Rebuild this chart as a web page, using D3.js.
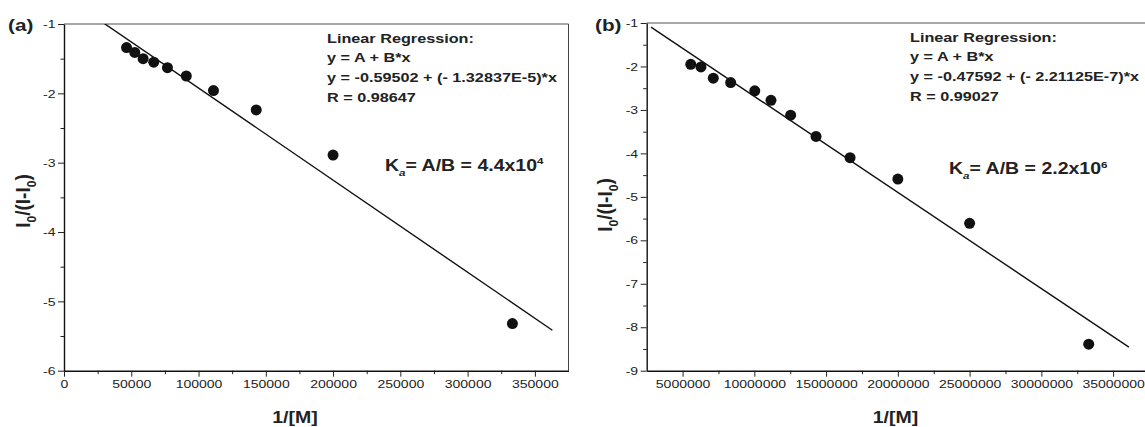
<!DOCTYPE html>
<html>
<head>
<meta charset="utf-8">
<script src="https://cdn.jsdelivr.net/npm/d3@7"></script>
<style>
body { margin: 0; background: #fff; }
svg { display: block; font-family: "Liberation Sans", Arial, sans-serif; }
</style>
</head>
<body>
<div id="chart"></div>
<script>
// panel (a) points: 1/[M] against I0/(I-I0)
const xA = [46500, 52600, 58800, 66700, 76900, 90900, 111100, 142900, 200000, 333300];
const yA = [-1.34, -1.41, -1.50, -1.55, -1.63, -1.75, -1.96, -2.24, -2.89, -5.32];
const fitA = [-0.59502, -1.32837e-5];      // A, B
const fitSpanA = [0, 363000];
const xTicksA = [0, 50000, 100000, 150000, 200000, 250000, 300000, 350000];
const xMinorA = [25000, 75000, 125000, 175000, 225000, 275000, 325000];
const yTicksA = [-6, -5, -4, -3, -2, -1];
const yMinorA = [-5.5, -4.5, -3.5, -2.5, -1.5];
const regTextA = ["Linear Regression:", "y = A + B*x", "y = -0.59502 + (- 1.32837E-5)*x", "R = 0.98647"];
const kaA = ["4.4x10", "4"];

// panel (b)
const xB = [5570000, 6280000, 7140000, 8350000, 10030000, 11160000, 12530000, 14300000, 16670000, 20000000, 25000000, 33300000];
const yB = [-1.95, -2.01, -2.27, -2.37, -2.56, -2.78, -3.12, -3.61, -4.10, -4.59, -5.61, -8.39];
const fitB = [-0.47592, -2.21125e-7];
const fitSpanB = [2800000, 36100000];
const xTicksB = [5000000, 10000000, 15000000, 20000000, 25000000, 30000000, 35000000];
const xMinorB = [7500000, 12500000, 17500000, 22500000, 27500000, 32500000];
const yTicksB = [-9, -8, -7, -6, -5, -4, -3, -2, -1];
const yMinorB = [-8.5, -7.5, -6.5, -5.5, -4.5, -3.5, -2.5, -1.5];
const regTextB = ["Linear Regression:", "y = A + B*x", "y = -0.47592 + (- 2.21125E-7)*x", "R = 0.99027"];
const kaB = ["2.2x10", "6"];

const width = 1145, height = 427;
const SX = 1.22; // the source figure is stretched sideways, so text is too

const svg = d3.select("#chart")
    .append("svg")
    .attr("width", width)
    .attr("height", height);

function stretched(g, x, y, sx) {
    return g.append("text").attr("transform", `translate(${x},${y}) scale(${sx},1)`);
}

function drawPanel(p) {
    const x = d3.scaleLinear().domain(p.xDomain).range(p.xRange);
    const y = d3.scaleLinear().domain(p.yDomain).range(p.yRange);
    const g = svg.append("g");
    const x0 = p.xRange[0], x1 = p.xRange[1], yb = p.yRange[0], yt = p.yRange[1];

    // frame: grey top, dark right
    g.append("line").attr("x1", x0).attr("x2", x1).attr("y1", yt).attr("y2", yt)
        .attr("stroke", "#8a8a8a").attr("stroke-width", 1.6);
    g.append("line").attr("x1", x1).attr("x2", x1).attr("y1", yt).attr("y2", yb)
        .attr("stroke", "#444").attr("stroke-width", 1);

    // minor ticks
    const mx = g.append("g").attr("transform", `translate(0,${yb})`)
        .call(d3.axisBottom(x).tickValues(p.xMinor).tickSize(3.5).tickSizeOuter(0).tickFormat(""));
    const my = g.append("g").attr("transform", `translate(${x0},0)`)
        .call(d3.axisLeft(y).tickValues(p.yMinor).tickSize(3.5).tickSizeOuter(0).tickFormat(""));
    mx.select(".domain").remove();
    my.select(".domain").remove();

    // major axes
    const ax = g.append("g").attr("transform", `translate(0,${yb})`)
        .call(d3.axisBottom(x).tickValues(p.xTicks).tickSize(6).tickSizeOuter(0).tickPadding(3).tickFormat(d3.format("d")));
    const ay = g.append("g").attr("transform", `translate(${x0},0)`)
        .call(d3.axisLeft(y).tickValues(p.yTicks).tickSize(6).tickSizeOuter(0).tickPadding(1).tickFormat(d => d3.format("d")(d).replace("−", "-")));
    [ax, ay, mx, my].forEach(a => {
        a.selectAll("line").attr("stroke", "#222").attr("stroke-width", 1);
        a.select(".domain").attr("stroke", "#111").attr("stroke-width", 1.4);
        a.selectAll("text")
            .attr("font-size", 11.5)
            .attr("fill", "#222")
            .attr("font-family", "Liberation Sans, Arial, sans-serif");
    });
    ax.selectAll("text").attr("transform", `scale(${SX},1)`).attr("x", d => (x(d) / SX) - x(d));
    ax.selectAll(".tick text").each(function (d) {
        d3.select(this).attr("transform", null)
            .attr("x", 0)
            .attr("transform", `scale(${SX},1)`);
    });
    ay.selectAll("text").attr("transform", `scale(${SX},1)`);

    // fit line, clipped to the plot area
    const clipId = "clip-" + p.name;
    g.append("clipPath").attr("id", clipId).append("rect")
        .attr("x", x0).attr("y", yt).attr("width", x1 - x0).attr("height", yb - yt);
    const line = d3.line().x(d => x(d)).y(d => y(p.fit[0] + p.fit[1] * d));
    g.append("path")
        .datum(p.fitSpan)
        .attr("clip-path", `url(#${clipId})`)
        .attr("fill", "none")
        .attr("stroke", "#111")
        .attr("stroke-width", 1.4)
        .attr("d", line);

    // points
    g.selectAll(".pt").data(p.xs.map((v, i) => [v, p.ys[i]]))
        .enter().append("circle")
        .attr("class", "pt")
        .attr("cx", d => x(d[0]))
        .attr("cy", d => y(d[1]))
        .attr("r", 5.5)
        .attr("fill", "#111");

    // regression text
    p.reg.forEach((t, i) => {
        stretched(g, p.regX, p.regY + i * 19.7, SX)
            .attr("font-size", 13.3).attr("font-weight", "bold").attr("fill", "#222")
            .text(t);
    });

    // K_a text
    const ka = stretched(g, p.kaX, p.kaY, SX)
        .attr("font-size", 16).attr("font-weight", "bold").attr("fill", "#222");
    ka.append("tspan").text("K");
    ka.append("tspan").attr("font-size", 9.5).attr("font-style", "italic").attr("dy", 5).text("a");
    ka.append("tspan").attr("dy", -5).text("= A/B = " + p.ka[0]);
    ka.append("tspan").attr("font-size", 9.5).attr("dy", -6.5).text(p.ka[1]);

    // panel label
    stretched(g, p.labelX, 31, SX)
        .attr("font-size", 17).attr("font-weight", "bold").attr("fill", "#222")
        .text(p.label);

    // x title
    stretched(g, p.xTitleX, 423, SX)
        .attr("font-size", 16).attr("font-weight", "bold").attr("fill", "#222")
        .attr("text-anchor", "middle")
        .text("1/[M]");

    // y title
    const yt2 = g.append("text")
        .attr("transform", `translate(${p.yTitleX},${p.yTitleY}) scale(1.1,1) rotate(-90)`)
        .attr("font-size", 19).attr("font-weight", "bold").attr("fill", "#222")
        .attr("text-anchor", "middle");
    yt2.append("tspan").text("I");
    yt2.append("tspan").attr("font-size", 12).attr("dy", 5).text("0");
    yt2.append("tspan").attr("dy", -5).text("/(I-I");
    yt2.append("tspan").attr("font-size", 12).attr("dy", 5).text("0");
    yt2.append("tspan").attr("dy", -5).text(")");
}

drawPanel({
    name: "a", label: "(a)", labelX: 8,
    xDomain: [0, 375000], xRange: [64, 568.5],
    yDomain: [-6, -1], yRange: [370.7, 24],
    xs: xA, ys: yA, fit: fitA, fitSpan: fitSpanA,
    xTicks: xTicksA, xMinor: xMinorA, yTicks: yTicksA, yMinor: yMinorA,
    reg: regTextA, regX: 327, regY: 42.7,
    ka: kaA, kaX: 385, kaY: 170.7,
    xTitleX: 295, yTitleX: 30, yTitleY: 201
});

drawPanel({
    name: "b", label: "(b)", labelX: 595,
    xDomain: [2500000, 37500000], xRange: [646.7, 1149],
    yDomain: [-9, -1], yRange: [370.7, 23],
    xs: xB, ys: yB, fit: fitB, fitSpan: fitSpanB,
    xTicks: xTicksB, xMinor: xMinorB, yTicks: yTicksB, yMinor: yMinorB,
    reg: regTextB, regX: 910, regY: 41.7,
    ka: kaB, kaX: 949, kaY: 174,
    xTitleX: 895.5, yTitleX: 612, yTitleY: 205
});
</script>
</body>
</html>
